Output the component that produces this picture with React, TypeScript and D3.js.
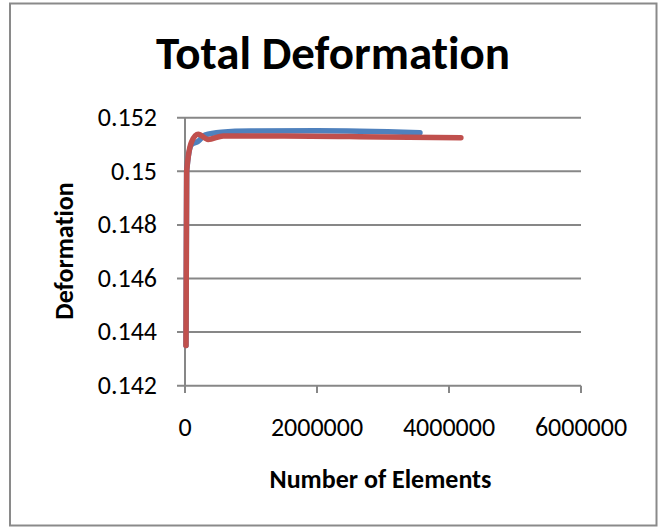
import React from "react";
import * as d3 from "d3";

const xTicks = [0, 2000000, 4000000, 6000000];
const yTicks = [0.142, 0.144, 0.146, 0.148, 0.15, 0.152];
const yTickLabels = ["0.142", "0.144", "0.146", "0.148", "0.15", "0.152"];

const blueElements = [15000, 25000, 100000, 200000, 300000, 550000, 1000000, 2000000, 3560000];
const blueDeformation = [0.1435, 0.15, 0.151, 0.15112, 0.15135, 0.15146, 0.1515, 0.15151, 0.15144];

const redElements = [15000, 25000, 100000, 200000, 350000, 580000, 1500000, 3000000, 4180000];
const redDeformation = [0.1435, 0.15, 0.1511, 0.15138, 0.15119, 0.15132, 0.15132, 0.15128, 0.15125];

const FONT = "Carlito, 'Liberation Sans', Arial, sans-serif";

export default function App() {
  const W = 659, H = 527;
  const x = d3.scaleLinear().domain([0, 6000000]).range([185, 581]);
  const y = d3.scaleLinear().domain([0.142, 0.152]).range([385.7, 117.7]);
  const line = d3
    .line<[number, number]>()
    .x((d) => x(d[0]))
    .y((d) => y(d[1]))
    .curve(d3.curveMonotoneX);
  const blue = blueElements.map((e, i) => [e, blueDeformation[i]] as [number, number]);
  const red = redElements.map((e, i) => [e, redDeformation[i]] as [number, number]);
  const grid = "#878787";
  return (
    <svg
      width={W}
      height={H}
      style={{ position: "absolute", left: 0, top: 0, fontVariantLigatures: "none", fontFeatureSettings: '"liga" 0, "clig" 0' }}
      fontFamily={FONT}
    >
      <rect x={0} y={0} width={W} height={H} fill="#fff" />
      <rect x={10} y={3.5} width={646.5} height={522} fill="#fff" stroke="#8a8a8a" strokeWidth={2} />
      <text x={333} y={69} textAnchor="middle" fontSize={47} fontWeight="bold" fill="#000">
        Total Deformation
      </text>
      {yTicks.map((t, i) => (
        <g key={"y" + i}>
          <line x1={177} x2={581} y1={y(t)} y2={y(t)} stroke={grid} strokeWidth={2} />
          <text x={157} y={y(t) + 8.3} textAnchor="end" fontSize={26} fill="#000">
            {yTickLabels[i]}
          </text>
        </g>
      ))}
      <line x1={185} x2={185} y1={117.7} y2={385.7} stroke={grid} strokeWidth={2} />
      {xTicks.map((t, i) => (
        <g key={"x" + i}>
          <line x1={x(t)} x2={x(t)} y1={385.7} y2={393} stroke={grid} strokeWidth={2} />
          <text x={x(t)} y={435.5} textAnchor="middle" fontSize={26} fill="#000">
            {String(t)}
          </text>
        </g>
      ))}
      <path d={line(blue) || ""} fill="none" stroke="#4F81BD" strokeWidth={5.5} strokeLinecap="round" strokeLinejoin="round" />
      <path d={line(red) || ""} fill="none" stroke="#C0504D" strokeWidth={5.5} strokeLinecap="round" strokeLinejoin="round" />
      <text x={380.5} y={488} textAnchor="middle" fontSize={26} fontWeight="bold" fill="#000">
        Number of Elements
      </text>
      <text transform="translate(73,251) rotate(-90)" textAnchor="middle" fontSize={26} fontWeight="bold" fill="#000">
        Deformation
      </text>
    </svg>
  );
}
